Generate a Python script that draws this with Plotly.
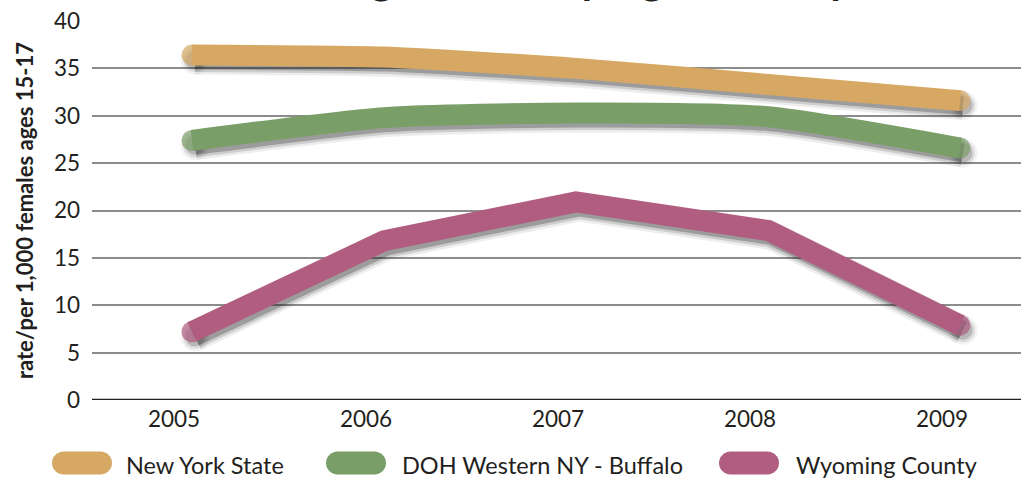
import plotly.graph_objects as go

years = [2005, 2006, 2007, 2008, 2009]
year_labels = ["2005", "2006", "2007", "2008", "2009"]
nys = [36.4, 36.2, 35.0, 33.3, 31.6]
doh = [27.4, 29.8, 30.3, 29.9, 26.6]
wyo = [7.2, 16.8, 20.9, 17.9, 7.9]
series_names = ["New York State", "DOH Western NY - Buffalo", "Wyoming County"]
series_colors = ["#D6A864", "#7A9E68", "#B05D80"]
y_ticks = [0, 5, 10, 15, 20, 25, 30, 35, 40]

title_text = "Teenage Births by Age, County"
y_title = "rate/per 1,000 females ages 15-17"

FONT = "Lato, Roboto, sans-serif"
LW = 21

# plot-area geometry in pixels (used to place the legend pieces)
L, T, B = 92, 21, 79
FIG_W, FIG_H = 1021, 479
PW = FIG_W - L
PH = FIG_H - T - B
PX_PER_YEAR = 192.0
PX_PER_UNIT = PH / 40.0

fig = go.Figure()

series = [nys, doh, wyo]
line_shapes = ["spline", "spline", "linear"]

# soft drop shadows
dx = 3 / PX_PER_YEAR
dy = 5 / PX_PER_UNIT
for vals, shp in zip(series, line_shapes):
    sx = [x + dx for x in years]
    sy = [v - dy for v in vals]
    for w, a in [(LW + 8, 0.08), (LW + 3, 0.15), (LW - 2, 0.28)]:
        c = "rgba(30,30,30,%.2f)" % a
        fig.add_trace(go.Scatter(
            x=sx, y=sy, mode="lines+markers",
            line=dict(color=c, width=w, shape=shp, smoothing=0.6),
            marker=dict(size=[w, 0, 0, 0, w], color=c, line=dict(width=0)),
            hoverinfo="skip", showlegend=False))

for vals, name, col, shp in zip(series, series_names, series_colors, line_shapes):
    fig.add_trace(go.Scatter(
        x=years, y=vals, mode="lines+markers", name=name,
        line=dict(color=col, width=LW, shape=shp, smoothing=0.6),
        marker=dict(size=[LW, 0, 0, 0, LW], color=col, line=dict(width=0)),
        showlegend=False))

# legend built from rounded "pill" shapes + text
pill_cx = [82, 356, 749]
text_x = [124, 400, 794]
leg_y = 463
pill = ("M -18.5,-11.5 L 18.5,-11.5 C 24.8,-11.5 30,-6.3 30,0 "
        "C 30,6.3 24.8,11.5 18.5,11.5 L -18.5,11.5 C -24.8,11.5 -30,6.3 -30,0 "
        "C -30,-6.3 -24.8,-11.5 -18.5,-11.5 Z")
for cx, tx, name, col in zip(pill_cx, text_x, series_names, series_colors):
    fig.add_shape(
        type="path", xref="paper", yref="paper",
        xsizemode="pixel", ysizemode="pixel",
        xanchor=(cx - L) / PW, yanchor=(T + PH - leg_y) / PH,
        path=pill, fillcolor=col, line=dict(width=0), layer="above")
    fig.add_annotation(
        x=(tx - L) / PW, y=(T + PH - leg_y - 2) / PH, xref="paper", yref="paper",
        text=name, showarrow=False, xanchor="left", yanchor="middle",
        font=dict(family=FONT, size=23.5, color="#231f20"))

# title (cropped at the top edge in the reference: only descenders show)
fig.add_annotation(
    x=(553 - L) / PW, y=(T + PH - 5) / PH, xref="paper", yref="paper",
    text="<b>" + title_text + "</b>", showarrow=False, xanchor="center", yanchor="bottom",
    font=dict(family=FONT, size=44, color="#231f20"))

# dark baseline at zero
fig.add_shape(type="line", xref="paper", yref="y", x0=0, x1=1, y0=0, y1=0,
              line=dict(color="#231f20", width=2.5), layer="below")

fig.update_layout(
    width=FIG_W, height=FIG_H,
    margin=dict(l=L, r=0, t=T, b=B),
    paper_bgcolor="white", plot_bgcolor="white",
    font=dict(family=FONT, size=22, color="#231f20"),
    xaxis=dict(range=[2005 - (192 - L) / PX_PER_YEAR, 2005 + (FIG_W - 192) / PX_PER_YEAR],
               tickvals=years, ticktext=year_labels,
               showgrid=False, zeroline=False, showline=False, ticks="",
               ticklabelstandoff=3, ticklabelshift=-18, automargin=False,
               tickfont=dict(family=FONT, size=22.5, color="#231f20")),
    yaxis=dict(range=[0, 40], tickvals=y_ticks, showgrid=True, gridcolor="#8c8c8c",
               gridwidth=2, zeroline=False, showline=False, ticks="",
               ticklabelstandoff=11, automargin=False,
               tickfont=dict(family=FONT, size=22.5, color="#231f20"),
               title=dict(text=y_title, standoff=14,
                          font=dict(family=FONT, size=22, color="#231f20", weight="bold"))),
)

fig.write_html("out.html", config={"displayModeBar": False},
               post_script="document.body.style.margin='0';document.body.style.overflow='hidden';")
